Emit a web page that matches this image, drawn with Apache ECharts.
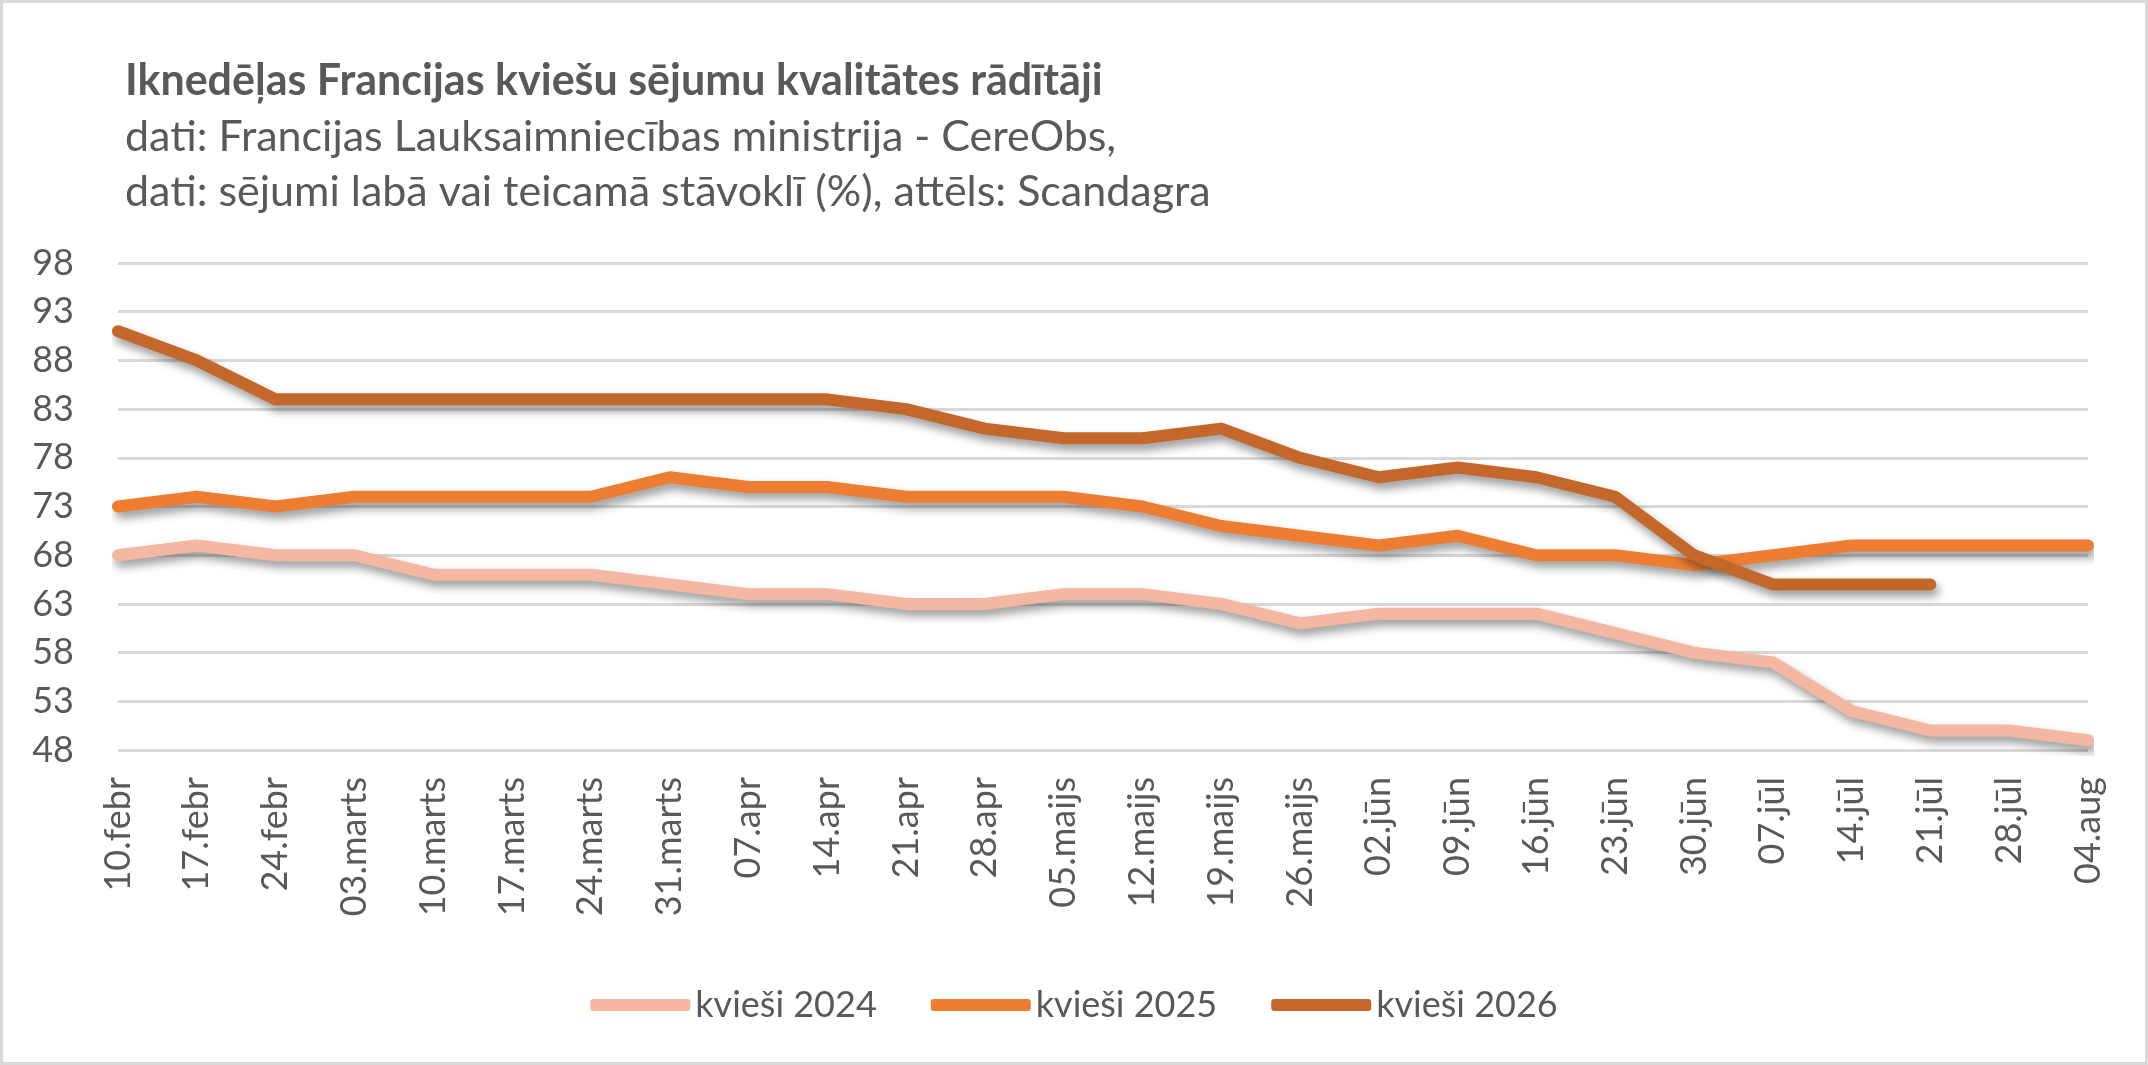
<!DOCTYPE html>
<html>
<head>
<meta charset="utf-8">
<script src="https://cdn.jsdelivr.net/npm/echarts@6/dist/echarts.min.js"></script>
<style>
html,body{margin:0;padding:0;background:#fff;}
#chart{width:2148px;height:1065px;box-sizing:border-box;border:3px solid #d9d9d9;}
</style>
</head>
<body>
<div id="chart"></div>
<script>
const categories = ['10.febr','17.febr','24.febr','03.marts','10.marts','17.marts','24.marts','31.marts','07.apr','14.apr','21.apr','28.apr','05.maijs','12.maijs','19.maijs','26.maijs','02.jūn','09.jūn','16.jūn','23.jūn','30.jūn','07.jūl','14.jūl','21.jūl','28.jūl','04.aug'];
const wheat2024 = [68,69,68,68,66,66,66,65,64,64,63,63,64,64,63,61,62,62,62,60,58,57,52,50,50,49];
const wheat2025 = [73,74,73,74,74,74,74,76,75,75,74,74,74,73,71,70,69,70,68,68,67,68,69,69,69,69];
const wheat2026 = [91,88,84,84,84,84,84,84,84,84,83,81,80,80,81,78,76,77,76,74,68,65,65,65,null,null];
const yTicks = [48,53,58,63,68,73,78,83,88,93,98];
const seriesNames = ['kvieši 2024','kvieši 2025','kvieši 2026'];
const colors = ['#F3B7A2','#ED7D31','#C4672A'];

const chart = echarts.init(document.getElementById('chart'), null, {renderer:'canvas'});
const font = 'Lato, "Liberation Sans", sans-serif';
const txt = '#595959';

function mkSeries(name, data, color) {
  return {
    name: name, type: 'line', data: data, symbol: 'none', connectNulls: false,
    lineStyle: {width: 12, color: color, cap: 'round', join: 'round',
      shadowColor: 'rgba(0,0,0,0.40)', shadowBlur: 10, shadowOffsetX: 3, shadowOffsetY: 6},
    itemStyle: {color: color},
    emphasis: {disabled: true}, animation: false
  };
}

chart.setOption({
  animation: false,
  textStyle: {fontFamily: font},
  title: {
    left: 122, top: 53, padding: 0, itemGap: 4,
    text: 'Iknedēļas Francijas kviešu sējumu kvalitātes rādītāji',
    textStyle: {fontFamily: font, fontSize: 43, fontWeight: 'bold', color: txt, lineHeight: 50},
    subtext: 'dati: Francijas Lauksaimniecības ministrija - CereObs,\ndati: sējumi labā vai teicamā stāvoklī (%), attēls: Scandagra',
    subtextStyle: {fontFamily: font, fontSize: 43, color: txt, lineHeight: 55}
  },
  legend: {
    data: seriesNames, left: 'center', top: 979, itemWidth: 100, itemHeight: 12, itemGap: 54,
    icon: 'roundRect',
    textStyle: {fontFamily: font, fontSize: 36, color: txt}
  },
  grid: {left: 115, right: 57, top: 260, bottom: 1065 - 753, containLabel: false},
  xAxis: {
    type: 'category', data: categories, boundaryGap: false,
    axisLine: {show: false}, axisTick: {show: false},
    axisLabel: {interval: 0, rotate: 90, margin: 27, fontFamily: font, fontSize: 36, color: txt}
  },
  yAxis: {
    type: 'value', min: 48, max: 98,
    axisLine: {show: false},
    axisTick: {show: false, customValues: yTicks},
    axisLabel: {customValues: yTicks, margin: 44, fontFamily: font, fontSize: 36, color: txt},
    splitLine: {show: true, lineStyle: {color: '#D9D9D9', width: 3}}
  },
  series: [
    mkSeries(seriesNames[0], wheat2024, colors[0]),
    mkSeries(seriesNames[1], wheat2025, colors[1]),
    mkSeries(seriesNames[2], wheat2026, colors[2])
  ]
});
</script>
</body>
</html>
